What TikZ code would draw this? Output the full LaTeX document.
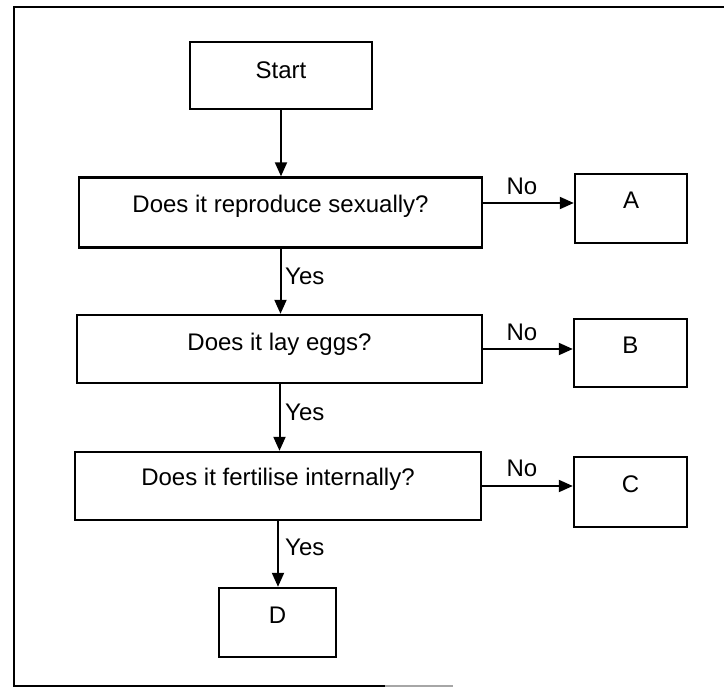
\documentclass[tikz,border=0pt]{standalone}
\usepackage{fontspec}
\setmainfont{Liberation Sans}
\usetikzlibrary{arrows.meta}
\begin{document}
\begin{tikzpicture}[x=1pt,y=-1pt,
  box/.style={draw, line width=2.4pt, inner sep=0pt},
  txt/.style={inner sep=0pt, text height=17pt, text depth=0pt, font=\fontsize{24}{28}\selectfont},
  arr/.style={line width=2pt, -{Triangle[length=14pt,width=12pt]}},
  frame/.style={line width=2.8pt}]
\useasboundingbox (0,0) rectangle (724,688);
% frame (scanned, open on the right)
\coordinate (f1) at (724,7);
\coordinate (f2) at (14,7);
\coordinate (f3) at (14,686);
\coordinate (f4) at (385,686);
\coordinate (f5) at (453,686);
\draw[frame] (f1) -- (f2) -- (f3) -- (f4);
\draw[frame, black!35] (f4) -- (f5);
% boxes
\node[box, minimum width=182pt, minimum height=67pt, label={[txt, yshift=5.5pt]center:Start}] (start) at (281,75.5) {};
\node[box, minimum width=403pt, minimum height=70pt, label={[txt, yshift=9pt]center:Does it reproduce sexually?}] (q1) at (280.5,212.5) {};
\node[box, minimum width=405pt, minimum height=68pt, label={[txt, yshift=7.5pt]center:Does it lay eggs?}] (q2) at (279.5,349) {};
\node[box, minimum width=406pt, minimum height=68pt, label={[txt, yshift=9pt]center:Does it fertilise internally?}] (q3) at (278,486) {};
\node[box, minimum width=112pt, minimum height=69pt, label={[txt, yshift=8.5pt]center:A}] (A) at (631,208.5) {};
\node[box, minimum width=113pt, minimum height=68pt, label={[txt, yshift=8pt]center:B}] (B) at (630.5,353) {};
\node[box, minimum width=113pt, minimum height=70pt, label={[txt, yshift=8.5pt]center:C}] (C) at (630.5,492) {};
\node[box, minimum width=117pt, minimum height=69pt, label={[txt, yshift=8pt]center:D}] (D) at (277.5,622.5) {};
% vertical arrows
\draw[arr] (start.south) -- (start.south |- q1.north);
\draw[arr] (q1.south) -- (q1.south |- q2.north);
\draw[arr] (q2.south) -- (q2.south |- q3.north);
\draw[arr] (q3.south) -- (q3.south |- D.north);
% horizontal arrows
\coordinate (n1) at ([yshift=9.5pt]q1.east);
\draw[arr] (n1) -- (n1 -| A.west);
\draw[arr] (q2.east) -- (q2.east -| B.west);
\draw[arr] (q3.east) -- (q3.east -| C.west);
% labels
\node[txt] (no1) at (522,186) {No};
\node[txt] (no2) at (522,332) {No};
\node[txt] (no3) at (522,468) {No};
\node[txt, anchor=west] (yes1) at (285,275.5) {Yes};
\node[txt, anchor=west] (yes2) at (285,412) {Yes};
\node[txt, anchor=west] (yes3) at (285,547) {Yes};
\end{tikzpicture}
\end{document}
